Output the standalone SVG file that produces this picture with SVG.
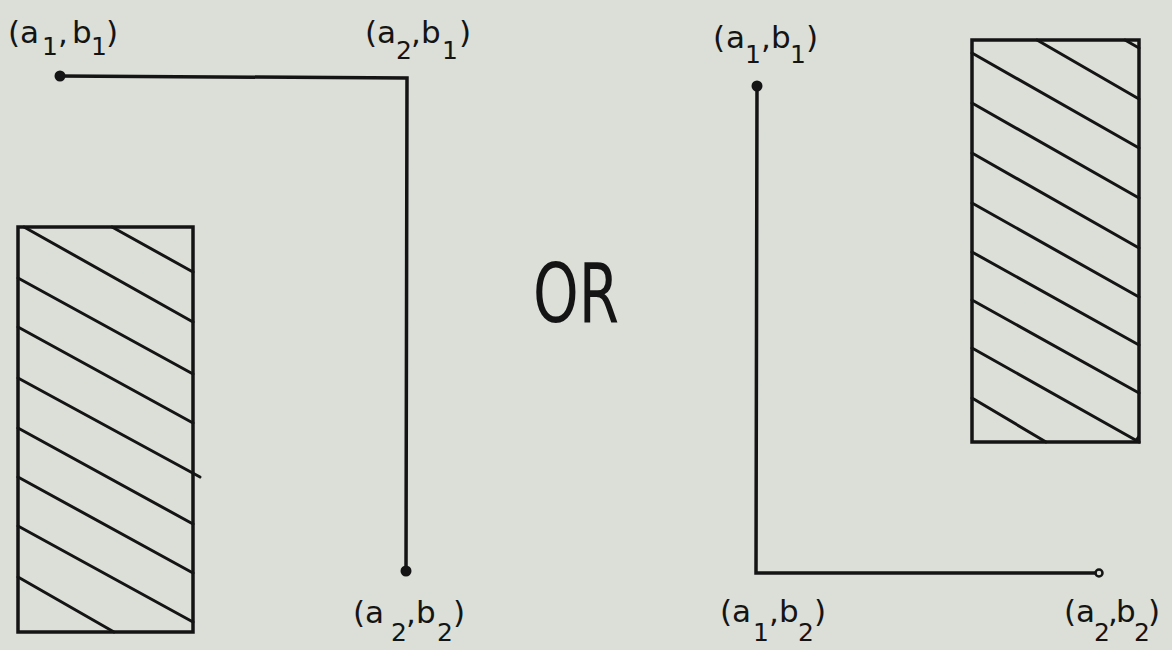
<svg xmlns="http://www.w3.org/2000/svg" width="1172" height="650" viewBox="0 0 1172 650">
<style>
.bg{fill:#dbdfd8}
.ln{fill:none;stroke:#141414;stroke-width:3.5;stroke-linecap:round;stroke-linejoin:miter}
.box{fill:none;stroke:#141414;stroke-width:3.5}
.hatch{stroke:#141414;stroke-width:3;stroke-linecap:round}
.dot{fill:#141414}
.odot{fill:none;stroke:#141414;stroke-width:2.5}
.lab{font-family:"DejaVu Sans","Liberation Sans",sans-serif;font-size:31px;fill:#141414}
.sub{font-size:25px}
.or{font-family:"DejaVu Sans","Liberation Sans",sans-serif;font-size:82px;fill:#141414}
</style>
<rect class="bg" x="0" y="0" width="1172" height="650"/>

<g id="connectors">
  <path id="path-left" class="ln" d="M60,76 L407,78 L406,571"/>
  <path id="path-right" class="ln" d="M757,86 L756,573 L1095,573"/>
</g>

<g id="obstacle-left">
  <rect class="box" x="18" y="227" width="175" height="405"/>
  <g class="hatch">
    <line x1="112" y1="227" x2="193" y2="272"/>
    <line x1="24" y1="227" x2="193" y2="322"/>
    <line x1="18" y1="278" x2="193" y2="374"/>
    <line x1="18" y1="327" x2="193" y2="423"/>
    <line x1="18" y1="378" x2="200" y2="477"/>
    <line x1="18" y1="428" x2="193" y2="524"/>
    <line x1="18" y1="477" x2="193" y2="573"/>
    <line x1="18" y1="526" x2="193" y2="622"/>
    <line x1="18" y1="577" x2="114" y2="632"/>
  </g>
</g>

<g id="obstacle-right">
  <rect class="box" x="972" y="40" width="167" height="402"/>
  <g class="hatch">
    <line x1="1125" y1="40" x2="1139" y2="48"/>
    <line x1="1037" y1="40" x2="1139" y2="99"/>
    <line x1="972" y1="53" x2="1139" y2="148"/>
    <line x1="972" y1="103" x2="1139" y2="198"/>
    <line x1="972" y1="153" x2="1139" y2="248"/>
    <line x1="972" y1="203" x2="1139" y2="297"/>
    <line x1="972" y1="252" x2="1139" y2="345"/>
    <line x1="972" y1="300" x2="1139" y2="393"/>
    <line x1="972" y1="348" x2="1139" y2="442"/>
    <line x1="972" y1="398" x2="1046" y2="442"/>
  </g>
  <path class="dot" d="M1133,442 L1139,434 L1139,442 Z"/>
</g>

<g id="point-a1b1-left">
  <circle class="dot" cx="60" cy="76" r="5.5"/>
  <text class="lab" y="43"><tspan x="8">(</tspan><tspan x="20">a</tspan><tspan class="sub" x="42" y="55">1</tspan><tspan x="58" y="43">,</tspan><tspan x="72">b</tspan><tspan class="sub" x="91" y="55">1</tspan><tspan x="106" y="43">)</tspan></text>
</g>

<g id="point-a2b1-left">
  <text class="lab" y="43"><tspan x="365">(</tspan><tspan x="377">a</tspan><tspan class="sub" x="396" y="59">2</tspan><tspan x="411" y="43">,</tspan><tspan x="421">b</tspan><tspan class="sub" x="442" y="59">1</tspan><tspan x="459" y="43">)</tspan></text>
</g>

<g id="point-a2b2-left">
  <circle class="dot" cx="406" cy="571" r="5.5"/>
  <text class="lab" y="623"><tspan x="353">(</tspan><tspan x="365">a</tspan><tspan class="sub" x="391" y="641">2</tspan><tspan x="406" y="623">,</tspan><tspan x="416">b</tspan><tspan class="sub" x="437" y="641">2</tspan><tspan x="453" y="623">)</tspan></text>
</g>

<g id="label-or">
  <text class="or" x="533" y="322" textLength="86" lengthAdjust="spacingAndGlyphs">OR</text>
</g>

<g id="point-a1b1-right">
  <circle class="dot" cx="757" cy="86" r="5.5"/>
  <text class="lab" y="48"><tspan x="713">(</tspan><tspan x="726">a</tspan><tspan class="sub" x="745" y="63">1</tspan><tspan x="761" y="48">,</tspan><tspan x="771">b</tspan><tspan class="sub" x="790" y="63">1</tspan><tspan x="806" y="48">)</tspan></text>
</g>

<g id="point-a1b2-right">
  <text class="lab" y="622"><tspan x="720">(</tspan><tspan x="732">a</tspan><tspan class="sub" x="753" y="641">1</tspan><tspan x="769" y="622">,</tspan><tspan x="779">b</tspan><tspan class="sub" x="798" y="641">2</tspan><tspan x="814" y="622">)</tspan></text>
</g>

<g id="point-a2b2-right">
  <circle class="odot" cx="1099" cy="573" r="3.5"/>
  <text class="lab" y="622"><tspan x="1064">(</tspan><tspan x="1076">a</tspan><tspan class="sub" x="1094" y="641">2</tspan><tspan x="1108" y="622">,</tspan><tspan x="1116">b</tspan><tspan class="sub" x="1134" y="641">2</tspan><tspan x="1148" y="622">)</tspan></text>
</g>
</svg>
